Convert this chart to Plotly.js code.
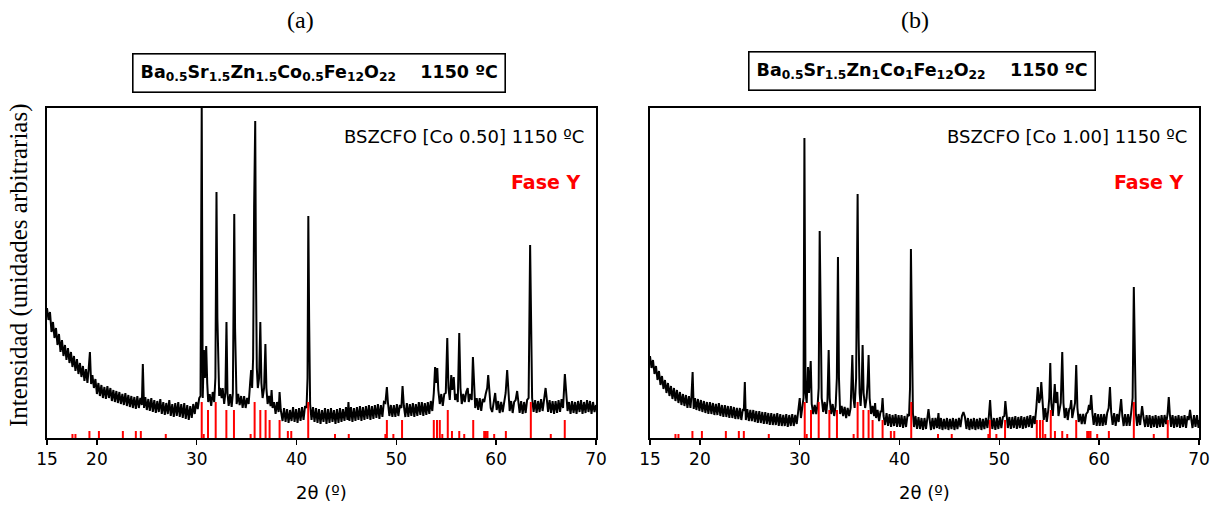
<!DOCTYPE html>
<html><head><meta charset="utf-8">
<script src="https://cdn.plot.ly/plotly-3.0.1.min.js"></script>
<style>html,body{margin:0;padding:0;background:#fff}#chart{width:1217px;height:506px}</style>
</head><body><div id="chart"></div>
<script>
// XRD pattern, panel (a): [2θ, intensity (arb.)]
const patternA = [
[15.0,130],[15.15,118],[15.3,126],[15.45,106],[15.6,116],[15.75,100],[15.9,110],[16.05,93],[16.2,104],[16.35,86],[16.5,98],[16.65,82],[16.8,93],[16.95,78],[17.1,90],[17.25,75],[17.4,86],[17.55,71],[17.7,82],[17.85,67],[18.0,79],[18.15,64],[18.3,75],[18.45,61],[18.6,72],[18.75,57],[18.9,69],[19.05,55],[19.15,66],[19.3,86],[19.42,54],[19.55,63],[19.7,50],[19.85,59],[20.0,44],[20.15,55],[20.3,42],[20.45,53],[20.6,40],[20.75,51],[20.9,39],[21.05,52],[21.2,40],[21.35,50],[21.5,37],[21.65,48],[21.8,36],[21.95,47],[22.1,35],[22.25,46],[22.4,34],[22.55,44],[22.7,33],[22.85,45],[23.0,32],[23.15,43],[23.3,31],[23.45,42],[23.6,30],[23.75,41],[23.9,29],[24.05,42],[24.2,30],[24.35,40],[24.5,33],[24.6,74],[24.72,30],[24.85,41],[25.0,28],[25.15,39],[25.3,27],[25.45,40],[25.6,26],[25.75,38],[25.9,25],[26.05,37],[26.2,26],[26.35,39],[26.5,24],[26.65,36],[26.8,23],[26.95,35],[27.1,24],[27.25,38],[27.4,22],[27.55,34],[27.7,21],[27.85,35],[28.0,22],[28.15,36],[28.3,21],[28.45,34],[28.6,20],[28.75,35],[28.9,19],[29.05,33],[29.2,18],[29.35,32],[29.5,20],[29.65,34],[29.8,24],[29.95,36],[30.1,29],[30.25,40],[30.38,42],[30.5,332],[30.6,40],[30.72,88],[30.82,60],[30.95,92],[31.05,55],[31.15,36],[31.3,44],[31.45,32],[31.6,46],[31.75,36],[31.87,60],[31.98,246],[32.07,120],[32.15,62],[32.25,42],[32.35,50],[32.5,40],[32.6,50],[32.75,34],[32.87,45],[32.98,116],[33.08,45],[33.2,32],[33.35,44],[33.5,31],[33.62,45],[33.76,224],[33.84,110],[33.92,55],[34.0,34],[34.15,44],[34.3,33],[34.45,42],[34.6,30],[34.75,42],[34.9,30],[35.05,40],[35.2,34],[35.35,55],[35.45,68],[35.55,50],[35.65,80],[35.75,231],[35.86,317],[35.93,171],[36.02,70],[36.12,50],[36.25,60],[36.37,116],[36.48,55],[36.6,40],[36.75,50],[36.88,94],[36.98,50],[37.1,34],[37.25,42],[37.4,32],[37.5,48],[37.6,30],[37.75,36],[37.9,24],[38.05,36],[38.2,26],[38.3,46],[38.42,28],[38.6,17],[38.75,30],[38.9,16],[39.05,29],[39.2,15],[39.35,28],[39.5,17],[39.65,31],[39.8,16],[39.95,29],[40.1,15],[40.25,30],[40.4,17],[40.55,31],[40.7,18],[40.85,32],[41.0,30],[41.1,60],[41.18,222],[41.26,120],[41.36,34],[41.5,18],[41.65,31],[41.8,16],[41.95,30],[42.1,15],[42.25,29],[42.4,14],[42.55,28],[42.7,16],[42.85,30],[43.0,14],[43.15,29],[43.3,15],[43.45,30],[43.6,16],[43.75,28],[43.9,14],[44.05,29],[44.2,15],[44.35,30],[44.5,16],[44.65,29],[44.8,17],[44.95,31],[45.1,18],[45.2,36],[45.3,17],[45.45,31],[45.6,16],[45.75,30],[45.9,17],[46.05,31],[46.2,18],[46.35,32],[46.5,17],[46.65,31],[46.8,18],[46.95,32],[47.1,19],[47.25,33],[47.4,18],[47.55,32],[47.7,19],[47.85,33],[48.0,20],[48.15,34],[48.3,19],[48.45,33],[48.6,21],[48.75,36],[48.9,35],[49.05,51],[49.15,36],[49.3,22],[49.45,33],[49.6,21],[49.75,33],[49.9,21],[50.05,34],[50.2,22],[50.35,33],[50.5,30],[50.62,52],[50.75,32],[50.9,21],[51.05,35],[51.2,21],[51.35,34],[51.5,22],[51.65,35],[51.8,21],[51.95,34],[52.1,22],[52.25,36],[52.4,23],[52.55,36],[52.7,22],[52.85,35],[53.0,23],[53.15,36],[53.3,24],[53.45,37],[53.6,27],[53.75,45],[53.88,71],[54.0,55],[54.1,70],[54.2,48],[54.35,34],[54.5,44],[54.65,32],[54.8,44],[54.95,45],[55.1,100],[55.22,50],[55.35,38],[55.5,63],[55.6,48],[55.75,61],[55.88,38],[56.0,44],[56.15,36],[56.3,105],[56.42,50],[56.55,34],[56.7,44],[56.85,36],[57.0,46],[57.15,50],[57.25,36],[57.4,44],[57.55,38],[57.67,81],[57.78,45],[57.9,30],[58.05,40],[58.2,28],[58.35,40],[58.5,27],[58.65,39],[58.8,36],[58.95,44],[59.1,50],[59.2,63],[59.32,42],[59.45,30],[59.6,26],[59.75,38],[59.9,45],[60.05,28],[60.2,37],[60.35,25],[60.5,36],[60.65,26],[60.8,38],[60.95,45],[61.1,68],[61.22,40],[61.35,27],[61.5,37],[61.65,25],[61.8,36],[61.95,38],[62.1,47],[62.22,34],[62.35,25],[62.5,37],[62.65,24],[62.8,36],[62.95,25],[63.1,38],[63.25,40],[63.4,193],[63.5,120],[63.6,40],[63.75,26],[63.9,38],[64.05,25],[64.2,37],[64.35,26],[64.5,39],[64.65,27],[64.8,40],[64.95,50],[65.08,38],[65.2,26],[65.35,38],[65.5,25],[65.65,37],[65.8,24],[65.95,37],[66.1,25],[66.25,38],[66.4,26],[66.55,39],[66.7,30],[66.88,64],[67.0,42],[67.15,27],[67.3,36],[67.45,24],[67.6,37],[67.75,25],[67.9,36],[68.05,24],[68.2,37],[68.35,26],[68.5,38],[68.65,24],[68.8,36],[68.95,25],[69.1,38],[69.25,26],[69.4,37],[69.55,24],[69.7,36],[69.85,26],[70.0,33]
];

// XRD pattern, panel (b)
const patternB = [
[15.0,82],[15.15,70],[15.3,78],[15.45,64],[15.6,72],[15.75,58],[15.9,67],[16.05,53],[16.2,62],[16.35,49],[16.5,58],[16.65,45],[16.8,55],[16.95,42],[17.1,52],[17.25,39],[17.4,50],[17.55,37],[17.7,48],[17.85,35],[18.0,46],[18.15,33],[18.3,44],[18.45,32],[18.6,43],[18.75,30],[18.9,42],[19.05,30],[19.15,41],[19.27,66],[19.38,29],[19.5,40],[19.65,28],[19.8,39],[19.95,27],[20.1,38],[20.25,26],[20.4,37],[20.55,25],[20.7,36],[20.85,24],[21.0,36],[21.15,24],[21.3,35],[21.45,23],[21.6,34],[21.75,23],[21.9,35],[22.05,22],[22.2,33],[22.35,21],[22.5,33],[22.65,21],[22.8,32],[22.95,20],[23.1,32],[23.25,20],[23.4,31],[23.55,19],[23.7,30],[23.85,19],[24.0,30],[24.15,18],[24.3,29],[24.4,27],[24.5,56],[24.6,18],[24.75,29],[24.9,17],[25.05,28],[25.2,17],[25.35,28],[25.5,16],[25.65,27],[25.8,15],[25.95,27],[26.1,15],[26.25,26],[26.4,14],[26.55,26],[26.7,14],[26.85,25],[27.0,13],[27.15,25],[27.3,13],[27.45,24],[27.6,13],[27.75,25],[27.9,12],[28.05,24],[28.2,12],[28.35,23],[28.5,12],[28.65,24],[28.8,11],[28.95,23],[29.1,12],[29.25,24],[29.4,12],[29.55,23],[29.7,14],[29.85,26],[30.0,40],[30.12,20],[30.25,28],[30.38,40],[30.47,300],[30.58,45],[30.7,35],[30.83,71],[30.93,45],[31.1,77],[31.2,34],[31.35,24],[31.5,33],[31.65,24],[31.8,34],[31.9,50],[32.0,207],[32.1,80],[32.2,40],[32.35,26],[32.5,36],[32.65,24],[32.78,38],[32.9,88],[33.0,40],[33.15,24],[33.3,34],[33.45,22],[33.6,32],[33.72,60],[33.83,181],[33.93,60],[34.05,24],[34.2,32],[34.35,22],[34.5,31],[34.65,20],[34.8,30],[34.95,22],[35.1,30],[35.27,83],[35.38,40],[35.5,30],[35.65,60],[35.8,244],[35.9,100],[36.0,45],[36.1,32],[36.2,50],[36.3,93],[36.4,45],[36.55,30],[36.7,40],[36.8,55],[36.9,83],[37.0,40],[37.15,24],[37.3,32],[37.45,22],[37.55,35],[37.65,20],[37.8,28],[37.95,17],[38.1,27],[38.2,26],[38.3,40],[38.4,22],[38.55,13],[38.7,25],[38.85,12],[39.0,24],[39.15,11],[39.3,23],[39.45,12],[39.6,24],[39.75,11],[39.9,23],[40.05,11],[40.2,23],[40.35,10],[40.5,22],[40.65,11],[40.8,23],[40.95,22],[41.05,50],[41.14,189],[41.24,90],[41.34,25],[41.45,11],[41.6,22],[41.75,9],[41.9,21],[42.05,9],[42.2,20],[42.35,8],[42.5,20],[42.65,9],[42.78,21],[42.9,29],[43.02,18],[43.15,8],[43.3,20],[43.45,9],[43.6,20],[43.75,10],[43.9,25],[44.0,9],[44.15,20],[44.3,8],[44.45,19],[44.6,9],[44.75,20],[44.9,8],[45.05,19],[45.2,9],[45.35,20],[45.5,8],[45.65,19],[45.8,9],[45.95,20],[46.1,11],[46.25,22],[46.4,26],[46.55,21],[46.7,9],[46.85,20],[47.0,8],[47.15,19],[47.3,9],[47.45,20],[47.6,8],[47.75,19],[47.9,9],[48.05,20],[48.2,8],[48.35,19],[48.5,9],[48.65,20],[48.8,10],[48.95,22],[49.07,38],[49.18,20],[49.3,9],[49.45,20],[49.6,8],[49.75,20],[49.9,9],[50.05,21],[50.2,10],[50.35,21],[50.5,22],[50.6,37],[50.72,20],[50.85,10],[51.0,21],[51.15,9],[51.3,21],[51.45,10],[51.6,22],[51.75,9],[51.9,21],[52.05,10],[52.2,22],[52.35,9],[52.5,21],[52.65,10],[52.8,22],[52.95,11],[53.1,23],[53.25,10],[53.4,22],[53.55,14],[53.7,30],[53.85,51],[53.98,35],[54.1,40],[54.2,56],[54.32,32],[54.45,18],[54.6,30],[54.75,16],[54.9,28],[55.0,40],[55.1,75],[55.2,35],[55.35,22],[55.45,40],[55.55,54],[55.65,35],[55.8,46],[55.92,22],[56.05,30],[56.15,35],[56.3,86],[56.42,35],[56.55,20],[56.7,30],[56.85,18],[57.0,29],[57.1,30],[57.2,38],[57.3,20],[57.45,28],[57.58,35],[57.7,73],[57.82,30],[57.95,16],[58.1,24],[58.25,14],[58.4,24],[58.55,14],[58.7,24],[58.85,26],[58.98,33],[59.08,28],[59.2,43],[59.32,25],[59.45,13],[59.6,25],[59.75,12],[59.9,24],[60.05,12],[60.2,24],[60.35,12],[60.5,24],[60.65,13],[60.8,25],[60.95,30],[61.08,51],[61.2,26],[61.35,13],[61.5,25],[61.65,12],[61.8,24],[61.95,16],[62.08,28],[62.2,39],[62.32,22],[62.45,12],[62.6,24],[62.75,12],[62.9,24],[63.05,12],[63.2,25],[63.35,40],[63.47,151],[63.57,90],[63.67,25],[63.8,12],[63.95,24],[64.1,13],[64.3,32],[64.45,20],[64.6,11],[64.75,23],[64.9,11],[65.05,23],[65.2,10],[65.35,22],[65.5,11],[65.65,23],[65.8,10],[65.95,22],[66.1,11],[66.25,23],[66.4,11],[66.55,23],[66.7,14],[66.85,24],[66.97,41],[67.08,24],[67.2,11],[67.35,23],[67.5,10],[67.65,22],[67.8,11],[67.95,23],[68.1,10],[68.25,22],[68.4,11],[68.55,23],[68.7,10],[68.85,22],[68.97,18],[69.1,28],[69.22,18],[69.35,10],[69.5,23],[69.65,11],[69.8,23],[69.95,10],[70.0,18]
];

// Reference pattern "Fase Y" (stick positions and relative heights)
const stickPos = [17.55,17.85,19.25,20.2,22.6,23.9,24.4,26.9,30.5,30.7,31.13,31.9,32.97,33.73,35.4,35.8,36.37,36.9,37.3,38.3,39.13,39.47,41.17,43.85,45.23,48.9,49.05,49.7,50.57,53.75,54.07,54.35,54.6,55.15,55.57,56.3,56.8,57.7,58.8,58.97,59.13,59.8,60.97,63.47,65.47,66.87];
const stickH   = [4,4,7,7,7,7,7,4,36,4,28,36,28,28,4,36,28,28,18,18,7,7,36,4,4,4,18,4,18,18,18,18,4,28,7,7,4,18,7,7,7,4,7,36,4,18];

const xTicks = [15,20,30,40,50,60,70];
const panelTitles = ['(a)','(b)'];
const formulas = ['Ba<sub>0.5</sub>Sr<sub>1.5</sub>Zn<sub>1.5</sub>Co<sub>0.5</sub>Fe<sub>12</sub>O<sub>22</sub>    1150 ºC',
                  'Ba<sub>0.5</sub>Sr<sub>1.5</sub>Zn<sub>1</sub>Co<sub>1</sub>Fe<sub>12</sub>O<sub>22</sub>    1150 ºC'];
const sampleLabels = ['BSZCFO [Co 0.50] 1150 ºC','BSZCFO [Co 1.00] 1150 ºC'];
const phaseLabel = 'Fase Y';
const xTitle = '2θ (º)';
const yTitle = 'Intensidad (unidades arbitrarias)';

const W = 1217, H = 506;
const px = v => v / W, py = v => 1 - v / H;

function sticks(xa, ya) {
  const x = [], y = [];
  stickPos.forEach((p, i) => { x.push(p, p, null); y.push(0, stickH[i], null); });
  return {type:'scatter', mode:'lines', x, y, xaxis:xa, yaxis:ya, line:{color:'#ff0000', width:2}, hoverinfo:'skip'};
}
function curve(pat, xa, ya) {
  return {type:'scatter', mode:'lines', x:pat.map(p=>p[0]), y:pat.map(p=>p[1]), xaxis:xa, yaxis:ya,
    line:{color:'#000', width:2}, hoverinfo:'skip'};
}

const data = [curve(patternA,'x','y'), sticks('x','y'), curve(patternB,'x2','y2'), sticks('x2','y2')];

const sans = 'DejaVu Sans, Verdana, sans-serif';
const serif = 'Liberation Serif, Times New Roman, serif';
const xax = dom => ({domain:dom, range:[15,70], tickvals:xTicks, ticks:'outside', ticklen:5, tickwidth:1.5, tickcolor:'#000',
  showline:true, mirror:true, linecolor:'#000', linewidth:1.6, showgrid:false, zeroline:false,
  tickfont:{family:sans, size:17, color:'#000'}, automargin:false, fixedrange:true});
const yax = anchorX => ({domain:[py(438), py(108)], range:[0,330], showticklabels:false, ticks:'',
  showline:true, mirror:true, linecolor:'#000', linewidth:1.6, showgrid:false, zeroline:false, automargin:false, anchor:anchorX});

const ann = [];
const panels = [{l:47, r:596, tx:300, bx:319, by:73}, {l:650, r:1199, tx:915, bx:922, by:71}];
panels.forEach((p, i) => {
  ann.push({xref:'paper', yref:'paper', x:px(p.tx), y:py(20), text:panelTitles[i], showarrow:false,
    font:{family:serif, size:24, color:'#000'}, xanchor:'center', yanchor:'middle'});
  ann.push({xref:'paper', yref:'paper', x:px(p.bx), y:py(p.by), text:'<b>'+formulas[i]+'</b>', showarrow:false,
    font:{family:sans, size:17.5, color:'#000'}, xanchor:'center', yanchor:'middle',
    bordercolor:'#000', borderwidth:1.6, borderpad:7, bgcolor:'#fff'});
  ann.push({xref:'paper', yref:'paper', x:px(p.r-10), y:py(136), text:sampleLabels[i], showarrow:false,
    font:{family:sans, size:18, color:'#000'}, xanchor:'right', yanchor:'middle'});
  ann.push({xref:'paper', yref:'paper', x:px(p.r-14), y:py(182), text:'<b>'+phaseLabel+'</b>', showarrow:false,
    font:{family:sans, size:19, color:'#ff0000'}, xanchor:'right', yanchor:'middle'});
  ann.push({xref:'paper', yref:'paper', x:px((p.l+p.r)/2), y:py(492), text:xTitle, showarrow:false,
    font:{family:sans, size:18, color:'#000'}, xanchor:'center', yanchor:'middle'});
});
ann.push({xref:'paper', yref:'paper', x:px(19), y:py(265), text:yTitle, showarrow:false, textangle:-90,
  font:{family:serif, size:25, color:'#000'}, xanchor:'center', yanchor:'middle'});

const layout = {
  width:W, height:H, margin:{l:0, r:0, t:0, b:0}, showlegend:false,
  paper_bgcolor:'#fff', plot_bgcolor:'#fff',
  xaxis:Object.assign(xax([px(47), px(596)]), {anchor:'y'}), yaxis:yax('x'),
  xaxis2:Object.assign(xax([px(650), px(1199)]), {anchor:'y2'}), yaxis2:yax('x2'),
  annotations:ann
};
Plotly.newPlot('chart', data, layout, {staticPlot:true, displayModeBar:false});
</script></body></html>
